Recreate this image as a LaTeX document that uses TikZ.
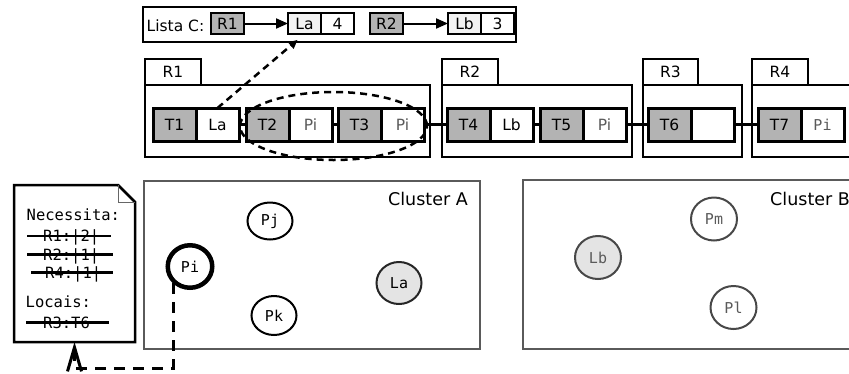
\documentclass[tikz,border=0pt]{standalone}
\usepackage{fontspec}
\setmainfont{DejaVu Sans}
\setmonofont{DejaVu Sans Mono}
\usetikzlibrary{arrows.meta,shapes.geometric}

\definecolor{cellgray}{RGB}{179,179,179}
\definecolor{keyfill}{RGB}{243,243,243}
\definecolor{leaderfill}{RGB}{228,228,228}
\definecolor{clusteredge}{RGB}{90,90,90}
\definecolor{softtext}{RGB}{90,90,90}
\definecolor{remoteedge}{RGB}{72,72,72}

\begin{document}
\begin{tikzpicture}[x=1pt,y=-1pt,
  lbl/.style={font=\fontsize{15.5}{18}\selectfont},
  tcell/.style={draw, line width=3pt, fill=cellgray, minimum width=43pt,
    minimum height=33pt, inner sep=0pt, outer sep=0pt, lbl},
  vcell/.style={tcell, fill=white},
  kcell/.style={draw, line width=2.5pt, fill=white, minimum width=33pt,
    minimum height=21pt, inner sep=0pt, outer sep=0pt, lbl},
  region/.style={draw, line width=2pt, inner sep=0pt, outer sep=0pt, anchor=north west},
  rtab/.style={region, minimum width=56pt, minimum height=26pt, lbl},
  link/.style={line width=3pt},
  karrow/.style={line width=2pt, -{Triangle[length=12pt,width=10pt]}},
  hint/.style={line width=2.5pt, dash pattern=on 7pt off 5pt,
    -{Triangle[length=9pt,width=8pt]}, shorten >=9pt},
  cluster/.style={draw=clusteredge, line width=2.5pt, inner sep=0pt, outer sep=0pt, anchor=north west},
  clabel/.style={inner sep=0pt, font=\fontsize{17.5}{20}\selectfont},
  proc/.style={draw, ellipse, line width=2pt, inner sep=0pt, fill=white,
    font=\ttfamily\fontsize{15}{18}\selectfont},
  remote/.style={proc, draw=remoteedge, text=softtext},
  note/.style={inner sep=0pt, anchor=base west, font=\ttfamily\fontsize{15.5}{18}\selectfont},
  strike/.style={line width=2.5pt},
  docline/.style={line width=2.5pt, line join=miter},
  back/.style={line width=3pt, dash pattern=on 11pt off 8pt,
    -{Straight Barb[length=24pt,width=14pt]}}
]
\useasboundingbox (0,0) rectangle (849,373);
\clip (0,0) rectangle (849,373);

% ---- list of C ----
\node[region, line width=2pt, minimum width=373pt, minimum height=35pt] (lista) at (143,7) {};
\node[inner sep=0pt, anchor=base west, lbl] (ltitle) at (146.5,31.5) {Lista C:};
\node[kcell, fill=cellgray, anchor=west] (lr1) at (211,23.5) {R1};
\node[kcell, fill=keyfill, anchor=west] (lla) at (288,23.5) {La};
\node[kcell, anchor=west] (ln4) at (lla.east) {4};
\node[kcell, fill=cellgray, anchor=west] (lr2) at (370,23.5) {R2};
\node[kcell, fill=keyfill, anchor=west] (llb) at (448,23.5) {Lb};
\node[kcell, anchor=west] (ln3) at (llb.east) {3};
\draw[karrow] (lr1) -- (lla);
\draw[karrow] (lr2) -- (llb);

% ---- regions ----
\node[region, minimum width=285pt, minimum height=72pt] (r1) at (145,85) {};
\node[rtab] (r1tab) at (145,59) {R1};
\node[region, minimum width=190pt, minimum height=72pt] (r2) at (442,85) {};
\node[rtab] (r2tab) at (442,59) {R2};
\node[region, minimum width=99pt, minimum height=72pt] (r3) at (643,85) {};
\node[rtab, minimum width=55pt] (r3tab) at (643,59) {R3};
\node[region, minimum width=130pt, minimum height=72pt] (r4) at (752,85) {};
\node[rtab] (r4tab) at (752,59) {R4};

% ---- task cells ----
\node[tcell, anchor=west] (t1) at (153,124.5) {T1};
\node[vcell, anchor=west] (c1) at (t1.east) {La};
\node[tcell, anchor=west] (t2) at (246,124.5) {T2};
\node[vcell, anchor=west, text=softtext] (c2) at (t2.east) {Pi};
\node[tcell, anchor=west] (t3) at (338,124.5) {T3};
\node[vcell, anchor=west, text=softtext] (c3) at (t3.east) {Pi};
\node[tcell, anchor=west] (t4) at (447,124.5) {T4};
\node[vcell, anchor=west] (c4) at (t4.east) {Lb};
\node[tcell, anchor=west] (t5) at (540,124.5) {T5};
\node[vcell, anchor=west, text=softtext] (c5) at (t5.east) {Pi};
\node[tcell, anchor=west] (t6) at (648,124.5) {T6};
\node[vcell, anchor=west] (c6) at (t6.east) {};
\node[tcell, anchor=west] (t7) at (758,124.5) {T7};
\node[vcell, anchor=west, text=softtext, font=\ttfamily\fontsize{15}{18}\selectfont] (c7) at (t7.east) {Pi};

\draw[link] (c1) -- (t2);
\draw[link] (c2) -- (t3);
\draw[link] (c3) -- (t4);
\draw[link] (c4) -- (t5);
\draw[link] (c5) -- (t6);
\draw[link] (c6) -- (t7);

% group of Pi tasks and pointer to the list entry
\node[draw, ellipse, line width=2.5pt, dash pattern=on 7pt off 5pt, inner sep=0pt,
  minimum width=187pt, minimum height=68pt] (grp) at (333.5,126) {};
\draw[hint] (c1.north) -- (lla.south);

% ---- clusters ----
\node[cluster, minimum width=336pt, minimum height=168pt] (ca) at (144,181) {};
\node[clabel, anchor=base east] (calabel) at (468,205) {Cluster A};
\node[cluster, minimum width=340pt, minimum height=169pt] (cb) at (523,180) {};
\node[clabel, anchor=base west] (cblabel) at (770,205) {Cluster B};

\node[proc, line width=4.5pt, minimum width=44.5pt, minimum height=42.5pt] (pi) at (190,266.5) {Pi};
\node[proc, minimum width=45pt, minimum height=37pt] (pj) at (270,221) {Pj};
\node[proc, minimum width=45pt, minimum height=39pt] (pk) at (274,315.5) {Pk};
\node[proc, fill=leaderfill, draw=black!85, minimum width=45pt, minimum height=42pt] (la) at (399,283) {La};

\node[remote, fill=leaderfill, minimum width=46pt, minimum height=43pt] (lb) at (598,257.5) {Lb};
\node[remote, minimum width=46pt, minimum height=43pt] (pm) at (714,219) {Pm};
\node[remote, minimum width=46pt, minimum height=43pt] (pl) at (733.5,307.5) {Pl};

% ---- note held by Pi ----
\node[inner sep=0pt, outer sep=0pt, anchor=north west, minimum width=121pt, minimum height=157pt] (doc) at (14,185) {};
\draw[docline, fill=white] (doc.north west) -- ([xshift=-17pt]doc.north east)
  -- ([yshift=-17pt]doc.north east) -- (doc.south east) -- (doc.south west) -- cycle;
\draw[line width=1pt, black!60] ([xshift=-17pt]doc.north east)
  -- ([xshift=-17pt,yshift=-17pt]doc.north east) -- ([yshift=-17pt]doc.north east);

\node[note] (need) at (26.5,220) {Necessita:};
\node[note] (n1) at (43,241.5) {R1:|2|};
\node[note] (n2) at (43,260) {R2:|1|};
\node[note] (n4) at (45,278) {R4:|1|};
\node[note] (loc) at (25.5,307) {Locais:};
\node[note] (n3) at (43,328) {R3:T6};

\draw[strike] ([xshift=-16pt,yshift=5.5pt]n1.base west) -- ([xshift=12pt,yshift=5.5pt]n1.base east);
\draw[strike] ([xshift=-16pt,yshift=5.5pt]n2.base west) -- ([xshift=14pt,yshift=5.5pt]n2.base east);
\draw[strike] ([xshift=-14pt,yshift=5.5pt]n4.base west) -- ([xshift=12pt,yshift=5.5pt]n4.base east);
\draw[strike] ([xshift=-17pt,yshift=5.5pt]n3.base west) -- ([xshift=19pt,yshift=5.5pt]n3.base east);

\coordinate (bend) at (74.5,368);
\draw[back] (pi.-135) |- (bend) -- (doc.south);

\end{tikzpicture}
\end{document}
